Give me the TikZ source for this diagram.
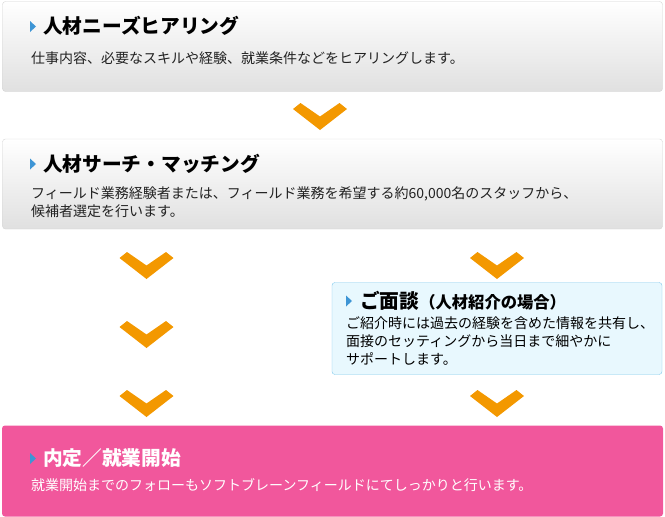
\documentclass[tikz,border=0pt]{standalone}
\usepackage{fontspec}
\setmainfont{Noto Sans CJK JP}
\usetikzlibrary{positioning}

\definecolor{chevorange}{HTML}{F39800}
\definecolor{flowpink}{HTML}{F1579C}
\definecolor{markblue}{HTML}{3E95D5}
\definecolor{paleblue}{HTML}{E8F8FE}
\definecolor{paleedge}{HTML}{7FC8EC}
\definecolor{grayedge}{HTML}{D4D4D4}
\definecolor{graylow}{HTML}{E0E0E0}
\definecolor{bodygray}{HTML}{222222}

\tikzset{
  graybox/.style={draw=grayedge,rounded corners=3pt,top color=white,bottom color=graylow,
    minimum width=660pt,minimum height=90pt,inner sep=0pt},
  headtitle/.style={anchor=base west,inner sep=0pt,font=\fontsize{19.7}{24}\selectfont\bfseries},
  bodytxt/.style={anchor=base west,inner sep=0pt,align=left,text=bodygray,
    font=\fontsize{14}{18}\selectfont},
  headmark/.pic={\fill[markblue] (-6,-5.5) -- (0,0) -- (-6,5.5) -- cycle;},
  chevron/.pic={\fill[chevorange] (-27,-21) -- (-19.5,-27) -- (0,-13.5) -- (19.5,-27)
    -- (27,-21) -- (0,0) -- cycle;}
}

\begin{document}
\begin{tikzpicture}[x=1pt,y=-1pt]
\useasboundingbox (0,0) rectangle (665,517);

% step 1
\node [graybox] (needs) at (332.5,46.5) {};
\node [headtitle] (needsT) at (43,33.5) {人材ニーズヒアリング};
\node [bodytxt] (needsB) at (31,63.8) {仕事内容、必要なスキルや経験、就業条件などをヒアリングします。};
\pic at ([xshift=-7pt,yshift=7pt]needsT.base west) {headmark};

% step 2
\node [graybox] (search) at (332.5,184) {};
\node [headtitle] (searchT) at (43,171) {人材サーチ・マッチング};
\node [bodytxt] (searchB) at (31,216.3) {フィールド業務経験者または、フィールド業務を希望する約60,000名のスタッフから、\\候補者選定を行います。};
\pic at ([xshift=-7pt,yshift=7pt]searchT.base west) {headmark};

% step 3 (optional)
\node [draw=paleedge,fill=paleblue,rounded corners=3pt,minimum width=330pt,minimum height=92pt,inner sep=0pt] (meet) at (497,328.5) {};
\node [headtitle] (meetT) at (360,308) {ご面談{\fontsize{16.3}{24}\selectfont （人材紹介の場合）}};
\node [bodytxt,text=black] (meetB) at (346,364.3) {ご紹介時には過去の経験を含めた情報を共有し、\\面接のセッティングから当日まで細やかに\\サポートします。};
\pic at ([xshift=-8pt,yshift=7pt]meetT.base west) {headmark};

% step 4
\node [fill=flowpink,rounded corners=3pt,minimum width=661pt,minimum height=91pt,inner sep=0pt] (start) at (332.5,471) {};
\node [headtitle,text=white] (startT) at (43,465.5) {内定／就業開始};
\node [bodytxt,text=white] (startB) at (31,490.3) {就業開始までのフォローもソフトブレーンフィールドにてしっかりと行います。};
\pic at ([xshift=-7pt,yshift=7pt]startT.base west) {headmark};

% chevrons
\pic (c1) at (320,130) {chevron};
\pic (c2) at (146.5,279) {chevron};
\pic (c3) at (146.5,348) {chevron};
\pic (c4) at (146.5,417) {chevron};
\pic (c5) at (497,279) {chevron};
\pic (c6) at (497,417) {chevron};
\end{tikzpicture}
\end{document}
